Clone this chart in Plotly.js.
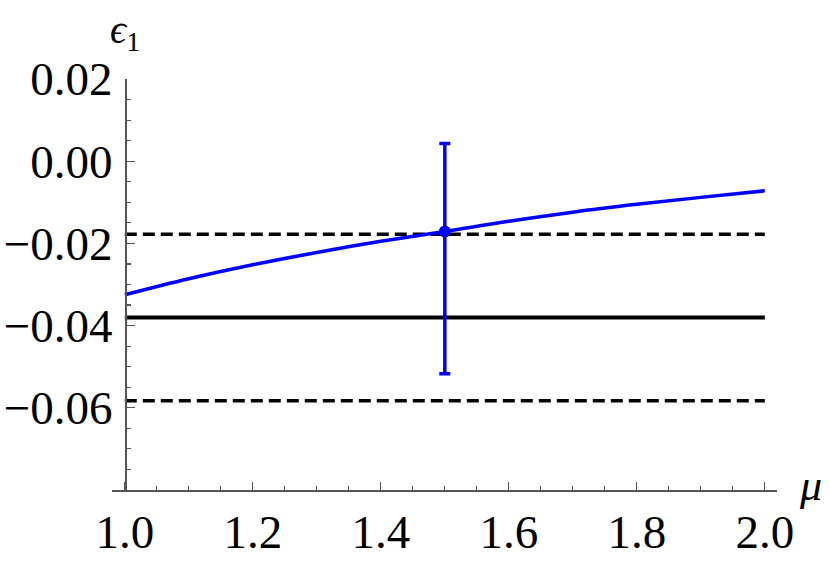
<!DOCTYPE html>
<html>
<head>
<meta charset="utf-8">
<script src="https://cdn.plot.ly/plotly-3.0.1.min.js"></script>
<style>
  body { margin: 0; background: #fff; }
  #plot { width: 830px; height: 570px; }
</style>
</head>
<body>
<div id="plot"></div>
<script>
// curve eps1(mu)
var mu   = [1.0, 1.1, 1.2, 1.3, 1.4, 1.5, 1.6, 1.7, 1.8, 1.9, 2.0];
var eps1 = [-0.0325, -0.0286, -0.0252, -0.0222, -0.0195, -0.0171,
            -0.0146, -0.0124, -0.0105, -0.0088, -0.0072];

// data point with asymmetric error bar
var pointMu   = [1.5];
var pointEps  = [-0.0171];
var errPlus   = [0.0214];
var errMinus  = [0.0346];

// horizontal band: central value and its bounds
var bandMu    = [1.0, 2.0];
var bandMid   = -0.038;
var bandLow   = -0.0583;
var bandHigh  = -0.0178;

var yTickVals = [0.02, 0.00, -0.02, -0.04, -0.06];
var yTickText = ['0.02', '0.00', '\u22120.02', '\u22120.04', '\u22120.06'];
var xTickVals = [1.0, 1.2, 1.4, 1.6, 1.8, 2.0];
var xTickText = ['1.0', '1.2', '1.4', '1.6', '1.8', '2.0'];

var axisCol = '#555555';
var serif = 'Liberation Serif';

var traces = [
  { x: bandMu, y: [bandHigh, bandHigh], mode: 'lines', type: 'scatter',
    line: {color: '#000', width: 3.5, dash: '12px,6px'} },
  { x: bandMu, y: [bandLow, bandLow], mode: 'lines', type: 'scatter',
    line: {color: '#000', width: 3.5, dash: '12px,6px'} },
  { x: bandMu, y: [bandMid, bandMid], mode: 'lines', type: 'scatter',
    line: {color: '#000', width: 4} },
  { x: mu, y: eps1, mode: 'lines', type: 'scatter',
    line: {color: '#0000ff', width: 3.5, shape: 'spline'} },
  { x: pointMu, y: pointEps, mode: 'markers', type: 'scatter',
    marker: {color: '#0000ff', size: 12},
    error_y: {type: 'data', symmetric: false, array: errPlus, arrayminus: errMinus,
              color: '#0000ff', thickness: 3.5, width: 5.5} }
];

var layout = {
  width: 830, height: 570,
  margin: {l: 112, r: 53, t: 79, b: 80},
  showlegend: false,
  plot_bgcolor: '#fff', paper_bgcolor: '#fff',
  xaxis: {
    range: [0.98, 2.019], showgrid: false, zeroline: false,
    showline: true, linecolor: axisCol, linewidth: 1.5,
    tickmode: 'array', tickvals: xTickVals, ticktext: xTickText,
    ticks: 'inside', ticklen: 8, tickwidth: 1.3, tickcolor: axisCol,
    minor: {dtick: 0.05, tick0: 1.0, ticks: 'inside', ticklen: 4.5, tickwidth: 1.1, tickcolor: axisCol},
    tickfont: {family: serif, size: 47, color: '#000'},
    ticklabelstandoff: 0
  },
  yaxis: {
    range: [-0.08, 0.02], showgrid: false, zeroline: false,
    anchor: 'free', position: 13 / 665,
    showline: true, linecolor: axisCol, linewidth: 1.5,
    tickmode: 'array', tickvals: yTickVals, ticktext: yTickText,
    ticks: 'inside', ticklen: 8, tickwidth: 1.3, tickcolor: axisCol,
    minor: {dtick: 0.005, tick0: 0, ticks: 'inside', ticklen: 4, tickwidth: 1.1, tickcolor: axisCol},
    tickfont: {family: serif, size: 47, color: '#000'},
    ticklabelstandoff: 3
  },
  annotations: [
    { text: '<i>\u03f5</i><sub>1</sub>', xref: 'x', yref: 'paper',
      x: 1.0, y: 1.115, xanchor: 'center', yanchor: 'middle', showarrow: false,
      font: {family: serif, size: 40, color: '#000'} },
    { text: '<i>\u03bc</i>', xref: 'paper', yref: 'paper',
      x: 1.051, y: 0.01, xanchor: 'center', yanchor: 'middle', showarrow: false,
      font: {family: serif, size: 44, color: '#000'} }
  ]
};

Plotly.newPlot('plot', traces, layout, {displayModeBar: false, staticPlot: true});
</script>
</body>
</html>
